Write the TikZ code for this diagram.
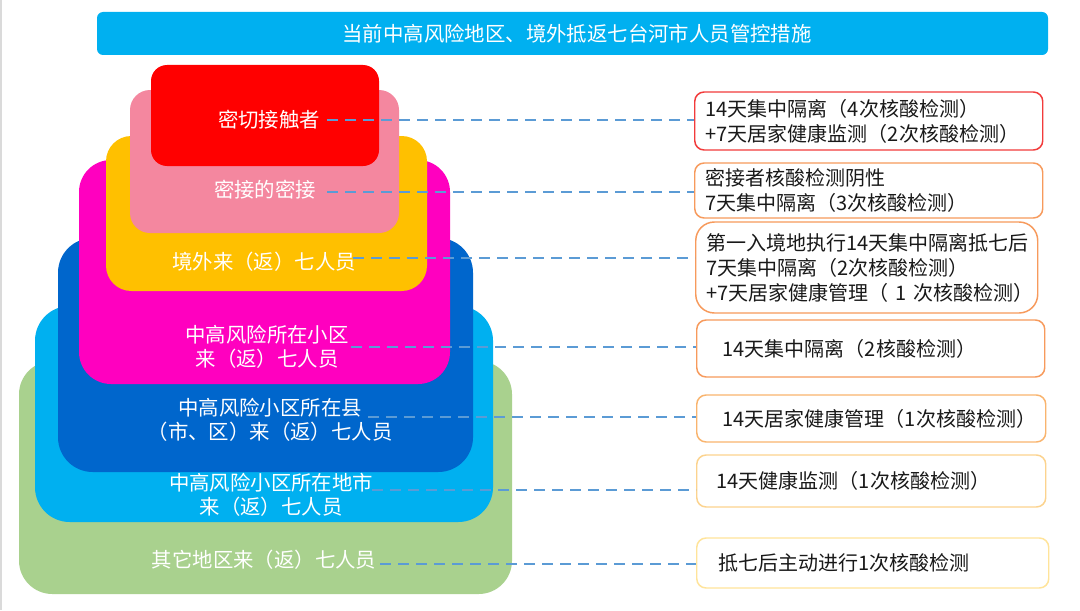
\documentclass[tikz,border=0pt]{standalone}
\usepackage{fontspec}
\setmainfont{Noto Sans CJK SC}
\definecolor{cRed}{HTML}{FF0000}
\definecolor{cPink}{HTML}{F4879F}
\definecolor{cYel}{HTML}{FFC000}
\definecolor{cMag}{HTML}{FF00BF}
\definecolor{cDblue}{HTML}{0066CC}
\definecolor{cCyan}{HTML}{00B0F0}
\definecolor{cGreen}{HTML}{A9D18E}
\definecolor{dashBlue}{HTML}{5B9BD5}
\definecolor{bRed}{HTML}{F23B3B}
\definecolor{bOrange}{HTML}{F79A5C}
\definecolor{bOrangeL}{HTML}{F9B46E}
\definecolor{bYelO}{HTML}{FCD38E}
\definecolor{bYel}{HTML}{FFE49A}
\definecolor{edgeGray}{HTML}{DADADA}
\begin{document}
\begin{tikzpicture}[x=0.75pt,y=-0.75pt,
  lab/.style={text=white, font=\fontsize{15.3}{18}\selectfont, align=center, inner sep=0pt},
  rbox/.style={draw=#1, line width=1.1pt, fill=white, rounded corners=7pt, anchor=west,
    align=left, font=\fontsize{15}{18.75}\selectfont, text=black!90},
  conn/.style={draw=dashBlue, line width=1.8pt, dash pattern=on 8pt off 5.5pt}
]
\useasboundingbox (0,0) rectangle (1080,610);
\fill[white] (0,0) rectangle (1080,610);
\draw[edgeGray, line width=1.5pt] (1,0) -- (1,610);

% title bar
\node[fill=cCyan, rounded corners=4.5pt, minimum width=713.25pt, minimum height=32.25pt,
  inner sep=0pt, text=white, font=\fontsize{15.3}{18}\selectfont] (title) at (572.5,33.5)
  {\hspace*{7pt}当前中高风险地区、境外抵返七台河市人员管控措施};

% stacked layers (bottom to top)
\fill[cGreen, rounded corners=25pt] (19,361) rectangle (512,594);
\fill[cCyan, rounded corners=26pt] (35,306) rectangle (493,522);
\fill[cDblue, rounded corners=26pt] (58,238) rectangle (473,472);
\fill[cMag, rounded corners=24pt] (79,160) rectangle (450,384);
\fill[cYel, rounded corners=19pt] (106,136) rectangle (427,291);
\fill[cPink, rounded corners=15pt] (130,90) rectangle (399,233);
\fill[cRed, rounded corners=12pt] (151,65) rectangle (379,166);

% labels
\node[lab] (l1) at (269,120) {密切接触者};
\node[lab] (l2) at (265,190) {密接的密接};
\node[lab] (l3) at (264,262) {境外来（返）七人员};
\node[lab] (l4) at (267,347) {中高风险所在小区\\来（返）七人员};
\node[lab] (l5) at (270,420) {中高风险小区所在县\\（市、区）来（返）七人员};
\node[lab] (l6) at (271,495) {中高风险小区所在地市\\来（返）七人员};
\node[lab] (l7) at (264,560) {其它地区来（返）七人员};

% right boxes
\node[rbox=bRed, inner xsep=8.25pt, text width=244.5pt, minimum height=43.5pt] (b1) at (694,121)
  {14天集中隔离（4次核酸检测）\\+7天居家健康监测（2次核酸检测）};
\node[rbox=bOrange, inner xsep=8.25pt, text width=244.5pt, minimum height=41.25pt] (b2) at (694,190.5)
  {密接者核酸检测阴性\\7天集中隔离（3次核酸检测）};
\node[rbox=bOrange, rounded corners=14pt, inner xsep=8.25pt, text width=240pt, minimum height=68.25pt] (b3) at (695,267.5)
  {\mbox{第一入境地执行14天集中隔离抵七后}\\\mbox{7天集中隔离（2次核酸检测）}\\\mbox{+7天居家健康管理（ 1 次核酸检测）}};
\node[rbox=bOrange, inner xsep=19.5pt, text width=222pt, minimum height=42.75pt] (b4) at (696,348.5)
  {14天集中隔离（2核酸检测）};
\node[rbox=bOrangeL, inner xsep=19.5pt, text width=222.75pt, minimum height=35.25pt] (b5) at (696,418.5)
  {14天居家健康管理（1次核酸检测）};
\node[rbox=bYelO, inner xsep=15pt, text width=231.75pt, minimum height=39pt] (b6) at (696,481)
  {14天健康监测（1次核酸检测）};
\node[rbox=bYel, inner xsep=16.5pt, text width=231pt, minimum height=37.5pt] (b7) at (696,563)
  {抵七后主动进行1次核酸检测};

% connector start points
\coordinate (s1) at (327,120);
\coordinate (s2) at (327,192);
\coordinate (s3) at (353,258);
\coordinate (s4) at (351,347);
\coordinate (s5) at (368,417);
\coordinate (s6) at (372,490);
\coordinate (s7) at (380,564);

\draw[conn] (s1) -- (s1 -| b1.west);
\draw[conn] (s2) -- (s2 -| b2.west);
\draw[conn] (s3) -- (s3 -| b3.west);
\draw[conn] (s4) -- (s4 -| b4.west);
\draw[conn] (s5) -- (s5 -| b5.west);
\draw[conn] (s6) -- (s6 -| b6.west);
\draw[conn] (s7) -- (s7 -| b7.west);
\end{tikzpicture}
\end{document}
